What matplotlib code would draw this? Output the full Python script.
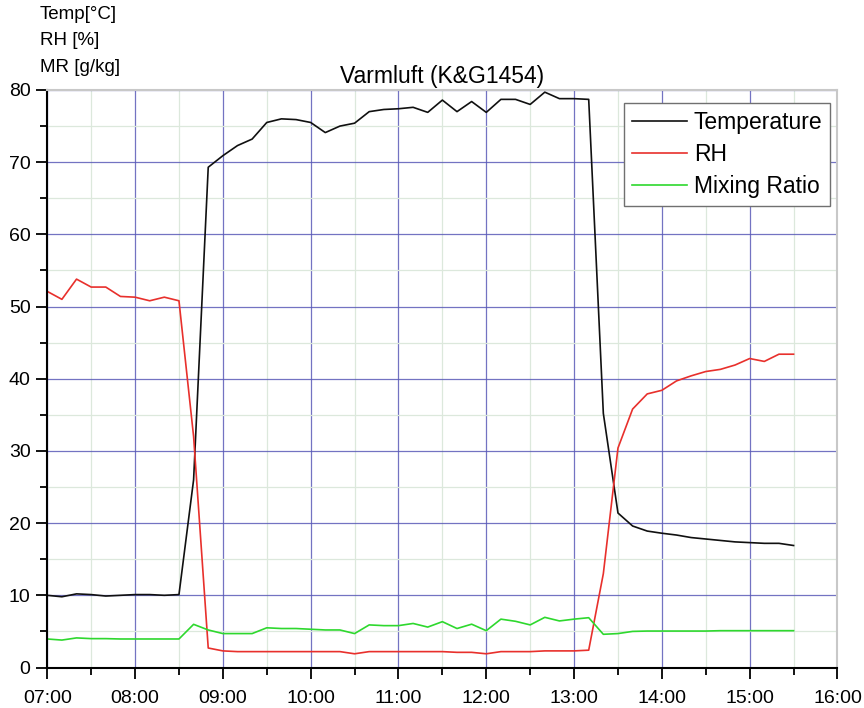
import matplotlib
matplotlib.use('Agg')
import matplotlib.pyplot as plt
import matplotlib.dates as mdates
import numpy as np
import pandas as pd

plt.rcParams['font.family'] = ['Liberation Sans', 'DejaVu Sans']

# 10-minute readings, 07:00 .. 15:30
times = pd.date_range('2000-01-01 07:00', '2000-01-01 15:30', freq='10min')

temperature = [
    10.0, 9.8, 10.2, 10.1, 9.9, 10.0, 10.1, 10.1, 10.0, 10.1,
    26.0, 69.3, 70.9, 72.3, 73.2, 75.5, 76.0, 75.9, 75.5, 74.1,
    75.0, 75.4, 77.0, 77.3, 77.4, 77.6, 76.9, 78.6, 77.0, 78.4,
    76.9, 78.7, 78.7, 78.0, 79.7, 78.8, 78.8, 78.7, 35.2, 21.4,
    19.6, 18.9, 18.6, 18.35, 18.0, 17.8, 17.6, 17.4, 17.3, 17.2,
    17.2, 16.9,
]
rh = [
    52.1, 51.0, 53.8, 52.7, 52.7, 51.4, 51.3, 50.8, 51.3, 50.8,
    32.0, 2.7, 2.3, 2.2, 2.2, 2.2, 2.2, 2.2, 2.2, 2.2,
    2.2, 1.9, 2.2, 2.2, 2.2, 2.2, 2.2, 2.2, 2.1, 2.1,
    1.9, 2.2, 2.2, 2.2, 2.3, 2.3, 2.3, 2.4, 13.0, 30.4,
    35.8, 37.9, 38.4, 39.7, 40.4, 41.0, 41.3, 41.9, 42.8, 42.4,
    43.4, 43.4,
]
mixing_ratio = [
    3.95, 3.8, 4.1, 4.0, 4.0, 3.95, 3.95, 3.95, 3.95, 3.95,
    5.98, 5.2, 4.7, 4.7, 4.7, 5.5, 5.4, 5.4, 5.3, 5.2,
    5.2, 4.7, 5.9, 5.8, 5.8, 6.1, 5.6, 6.35, 5.4, 6.0,
    5.1, 6.7, 6.4, 5.9, 6.95, 6.45, 6.7, 6.9, 4.6, 4.7,
    5.0, 5.05, 5.05, 5.05, 5.05, 5.05, 5.1, 5.1, 5.1, 5.1,
    5.1, 5.1,
]

fig = plt.figure(figsize=(8.64, 7.08), dpi=100)
ax = fig.add_axes([0.0547, 0.0572, 0.9146, 0.8157])

ax.plot(times, temperature, color='#101010', lw=1.2, label='Temperature')
ax.plot(times, rh, color='#e8302c', lw=1.2, label='RH')
ax.plot(times, mixing_ratio, color='#2ed82e', lw=1.2, label='Mixing Ratio')

ax.set_xlim(pd.Timestamp('2000-01-01 07:00'), pd.Timestamp('2000-01-01 16:00'))
ax.set_ylim(0, 80)
ax.xaxis.set_major_locator(mdates.HourLocator())
ax.xaxis.set_minor_locator(mdates.MinuteLocator(byminute=[30]))
ax.xaxis.set_major_formatter(mdates.DateFormatter('%H:%M'))
ax.set_yticks(np.arange(0, 81, 10))
ax.set_yticks(np.arange(5, 80, 10), minor=True)

ax.grid(which='major', color='#5a5ab8', lw=0.9, alpha=0.85)
ax.grid(which='minor', color='#dce8dc', lw=0.9)
ax.set_axisbelow(True)

ax.tick_params(which='major', direction='out', length=8, width=1.3, labelsize=14, pad=4)
ax.tick_params(axis='x', which='major', pad=8)
ax.tick_params(which='minor', direction='out', length=5, width=1.3)
for side in ['left', 'bottom']:
    ax.spines[side].set_linewidth(1.5)
for side in ['top', 'right']:
    ax.spines[side].set_color('#c8c8c8')
    ax.spines[side].set_linewidth(1.5)

ax.set_title('Varmluft (K&G1454)', fontsize=16.5, pad=5)
fig.text(0.046, 0.992, 'Temp[°C]\nRH [%]\nMR [g/kg]', ha='left', va='top',
         fontsize=13.5, linespacing=1.75)

leg = ax.legend(loc='upper right', bbox_to_anchor=(0.991, 0.978), fontsize=16.5,
                fancybox=False, framealpha=1, edgecolor='#707070',
                handlelength=2.4, handletextpad=0.3, borderpad=0.35, labelspacing=0.4,
                borderaxespad=0)
leg.get_frame().set_linewidth(1.0)

fig.savefig('out.png', dpi=100)
